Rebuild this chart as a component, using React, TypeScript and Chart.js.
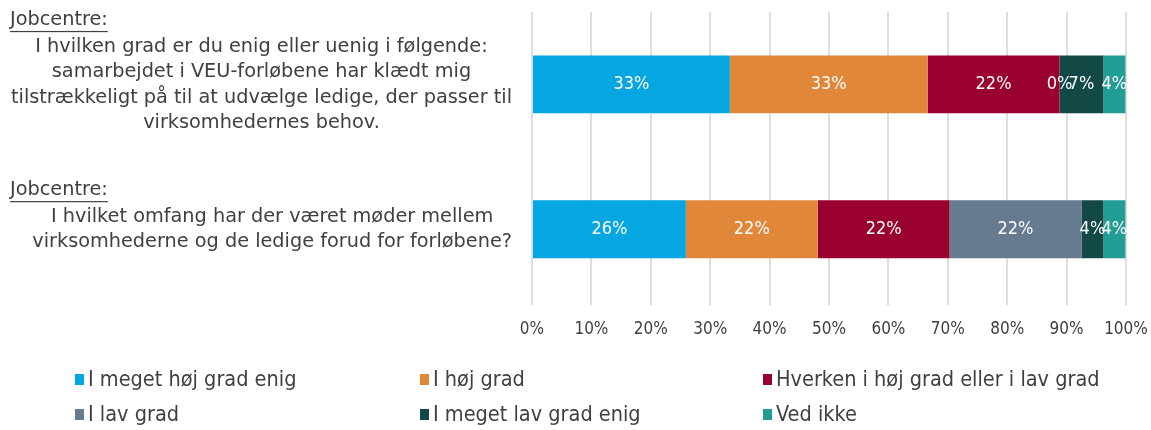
import React, { useEffect, useRef } from "react";
import { Chart, registerables } from "chart.js";

Chart.register(...registerables);

// ---- data ----
const categoryLines: string[][] = [
  [
    "Jobcentre:",
    "I hvilken grad er du enig eller uenig i følgende:",
    "samarbejdet i VEU-forløbene har klædt mig",
    "tilstrækkeligt på til at udvælge ledige, der passer til",
    "virksomhedernes behov.",
  ],
  [
    "Jobcentre:",
    "I hvilket omfang har der været møder mellem",
    "virksomhederne og de ledige forud for forløbene?",
  ],
];
const categories = ["Q1", "Q2"];

const seriesNames = [
  "I meget høj grad enig",
  "I høj grad",
  "Hverken i høj grad eller i lav grad",
  "I lav grad",
  "I meget lav grad enig",
  "Ved ikke",
];
const seriesColors = ["#05A6E1", "#E0873A", "#99002F", "#667B8F", "#124845", "#229D96"];

const megetHoejGrad = [33.3, 25.9];
const hoejGrad = [33.3, 22.2];
const hverken = [22.2, 22.2];
const lavGrad = [0, 22.2];
const megetLavGrad = [7.4, 3.7];
const vedIkke = [3.7, 3.7];

const xTickValues = [0, 10, 20, 30, 40, 50, 60, 70, 80, 90, 100];

const seriesValues = [megetHoejGrad, hoejGrad, hverken, lavGrad, megetLavGrad, vedIkke];

const NARROW = "'DejaVu Sans Condensed', 'Liberation Sans Narrow', 'DejaVu Sans', sans-serif";
const WIDE = "'DejaVu Sans', sans-serif";
const TEXT = "#404040";

export default function App() {
  const ref = useRef<HTMLCanvasElement | null>(null);

  useEffect(() => {
    document.body.style.margin = "0";
    const canvas = ref.current;
    if (!canvas) return;

    const dataLabels = {
      id: "dataLabels",
      afterDatasetsDraw(chart: any) {
        const ctx = chart.ctx;
        ctx.save();
        ctx.font = `18px ${NARROW}`;
        ctx.fillStyle = "#FFFFFF";
        ctx.textAlign = "center";
        ctx.textBaseline = "middle";
        chart.data.datasets.forEach((ds: any, di: number) => {
          const meta = chart.getDatasetMeta(di);
          meta.data.forEach((el: any, i: number) => {
            const p = el.getProps(["x", "base", "y"], true);
            const cx = (p.x + p.base) / 2;
            ctx.fillText(`${Math.round(ds.data[i])}%`, cx, p.y);
          });
        });
        ctx.restore();
      },
    };

    const categoryLabels = {
      id: "categoryLabels",
      afterDraw(chart: any) {
        const ctx = chart.ctx;
        const yScale = chart.scales.y;
        const right = chart.chartArea.left - 20;
        ctx.save();
        ctx.font = `19.3px ${WIDE}`;
        ctx.fillStyle = TEXT;
        ctx.textBaseline = "middle";
        categoryLines.forEach((lines, i) => {
          const cy = yScale.getPixelForValue(i);
          const span = 27 + (lines.length - 2) * 25.3;
          let y = cy - 13 - span / 2;
          ctx.textAlign = "left";
          ctx.fillText(lines[0], 10, y);
          const w0 = ctx.measureText(lines[0]).width;
          ctx.fillRect(10, y + 11, w0, 1.2);
          const rest = lines.slice(1);
          const maxW = Math.max(...rest.map((l) => ctx.measureText(l).width));
          const center = right - maxW / 2;
          ctx.textAlign = "center";
          y += 27;
          rest.forEach((l) => {
            ctx.fillText(l, center, y);
            y += 25.3;
          });
        });
        ctx.restore();
      },
    };

    const gridLegend = {
      id: "gridLegend",
      afterDraw(chart: any) {
        const ctx = chart.ctx;
        const colX = [75, 420, 763];
        const rowY = [380, 415];
        ctx.save();
        ctx.font = `21.5px ${NARROW}`;
        ctx.textBaseline = "middle";
        ctx.textAlign = "left";
        chart.data.datasets.forEach((ds: any, i: number) => {
          const x = colX[i % 3];
          const y = rowY[Math.floor(i / 3)];
          ctx.fillStyle = ds.backgroundColor;
          ctx.fillRect(x, y - 6, 9, 11);
          ctx.fillStyle = TEXT;
          ctx.fillText(ds.label, x + 13, y);
        });
        ctx.restore();
      },
    };

    const chart = new Chart(canvas, {
      type: "bar",
      data: {
        labels: categories,
        datasets: seriesNames.map((name, i) => ({
          label: name,
          data: seriesValues[i],
          backgroundColor: seriesColors[i],
          borderWidth: 0,
          barPercentage: 0.8,
          categoryPercentage: 0.5,
        })),
      },
      options: {
        indexAxis: "y",
        animation: false,
        responsive: false,
        layout: { padding: { left: 532, right: 25, top: 12, bottom: 76 } },
        plugins: {
          legend: { display: false },
          tooltip: { enabled: false },
        },
        scales: {
          x: {
            stacked: true,
            min: 0,
            max: 100,
            afterBuildTicks: (scale: any) => {
              scale.ticks = xTickValues.map((v) => ({ value: v }));
            },
            afterFit: (scale: any) => {
              scale.paddingLeft = 0;
              scale.paddingRight = 0;
            },
            grid: {
              color: "#DEDEDE",
              lineWidth: 2,
              drawTicks: true,
              tickLength: 4,
            },
            border: { display: false },
            ticks: {
              padding: 14,
              color: TEXT,
              font: { family: NARROW, size: 17 },
              callback: (v: any) => `${v}%`,
            },
          },
          y: {
            stacked: true,
            display: false,
          },
        },
      },
      plugins: [dataLabels, categoryLabels, gridLegend],
    } as any);

    return () => chart.destroy();
  }, []);

  return (
    <div style={{ width: 1151, height: 430, position: "relative" }}>
      <canvas ref={ref} width={1151} height={430} style={{ display: "block" }} />
    </div>
  );
}
